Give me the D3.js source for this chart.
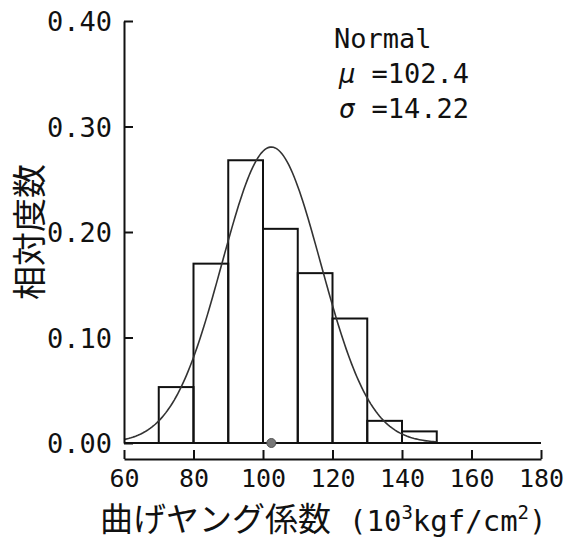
<!DOCTYPE html>
<html>
<head>
<meta charset="utf-8">
<script src="https://cdn.jsdelivr.net/npm/d3@7"></script>
<style>
  html, body { margin: 0; padding: 0; background: #fff; }
  svg { display: block; }
  .mono { font-family: "DejaVu Sans Mono", "Liberation Mono", monospace; }
  .cjk { font-family: "Noto Sans CJK JP", "Noto Sans CJK SC", sans-serif; }
</style>
</head>
<body>
<svg id="chart" width="567" height="541"></svg>
<script>
// Relative frequency histogram of bending Young's modulus, with fitted normal curve
const binStarts = [70, 80, 90, 100, 110, 120, 130, 140];
const binWidth = 10;
const relFreq = [0.053, 0.170, 0.268, 0.203, 0.161, 0.118, 0.021, 0.011];

const mu = 102.4;
const sigma = 14.22;
const curveRange = [60, 150];

const xTicks = [60, 80, 100, 120, 140, 160, 180];
const yTicks = [0.00, 0.10, 0.20, 0.30, 0.40];

const svg = d3.select("#chart");

const x = d3.scaleLinear().domain([60, 180]).range([124, 541]);
const y = d3.scaleLinear().domain([0, 0.40]).range([443, 21]);

const ink = "#111";

// bars
svg.append("g")
  .selectAll("rect")
  .data(binStarts.map((s, i) => ({ s, v: relFreq[i] })))
  .join("rect")
  .attr("x", d => x(d.s))
  .attr("y", d => y(d.v))
  .attr("width", d => x(d.s + binWidth) - x(d.s))
  .attr("height", d => y(0) - y(d.v))
  .attr("fill", "none")
  .attr("stroke", ink)
  .attr("stroke-width", 2);

// fitted normal curve scaled to bin width
const pdf = t => binWidth / (sigma * Math.sqrt(2 * Math.PI)) *
  Math.exp(-0.5 * Math.pow((t - mu) / sigma, 2));
const pts = d3.range(curveRange[0], curveRange[1] + 0.001, 0.5).map(t => [t, pdf(t)]);
svg.append("path")
  .datum(pts)
  .attr("d", d3.line().x(d => x(d[0])).y(d => y(d[1])))
  .attr("fill", "none")
  .attr("stroke", "#333")
  .attr("stroke-width", 1.6);

// baseline
svg.append("line")
  .attr("x1", x(60)).attr("x2", x(180))
  .attr("y1", y(0)).attr("y2", y(0))
  .attr("stroke", ink).attr("stroke-width", 2);

// y axis with inward ticks
const yAxis = svg.append("g")
  .attr("transform", `translate(${x(60)},0)`)
  .call(d3.axisLeft(y).tickValues(yTicks).tickFormat(d3.format(".2f"))
    .tickSize(-9).tickSizeOuter(0).tickPadding(12));
yAxis.attr("font-family", null);
yAxis.select(".domain").attr("stroke", ink).attr("stroke-width", 2);
yAxis.selectAll(".tick line").attr("stroke", ink).attr("stroke-width", 2);
yAxis.selectAll(".tick text")
  .attr("class", "mono")
  .attr("x", -12)
  .attr("dy", "0.36em")
  .attr("font-size", 27)
  .attr("fill", ink);

// separate x axis below the plot, ticks pointing up
const xAxis = svg.append("g")
  .attr("transform", "translate(0,459)")
  .call(d3.axisBottom(x).tickValues(xTicks).tickFormat(d3.format("d"))
    .tickSize(-9).tickSizeOuter(0).tickPadding(14));
xAxis.attr("font-family", null);
xAxis.select(".domain").attr("stroke", ink).attr("stroke-width", 2);
xAxis.selectAll(".tick line").attr("stroke", ink).attr("stroke-width", 2);
xAxis.selectAll(".tick text")
  .attr("class", "mono")
  .attr("y", 28)
  .attr("dy", 0)
  .attr("font-size", 25)
  .attr("fill", ink);

// mean marker
svg.append("circle")
  .attr("cx", x(mu)).attr("cy", y(0)).attr("r", 4.5)
  .attr("fill", "#777").attr("stroke", "#555");

// y axis title
svg.append("text")
  .attr("class", "cjk")
  .attr("transform", "translate(42,232) rotate(-90)")
  .attr("text-anchor", "middle")
  .attr("font-size", 34)
  .attr("fill", ink)
  .text("相対度数");

// x axis title
const xt = svg.append("text")
  .attr("x", 100).attr("y", 531)
  .attr("fill", ink);
xt.append("tspan").attr("class", "cjk").attr("font-size", 33).text("曲げヤング係数");
xt.append("tspan").attr("class", "mono").attr("font-size", 29).attr("dx", 18).text("(10");
xt.append("tspan").attr("class", "mono").attr("font-size", 19).attr("dy", -12).text("3");
xt.append("tspan").attr("class", "mono").attr("font-size", 29).attr("dy", 12).text("kgf/cm");
xt.append("tspan").attr("class", "mono").attr("font-size", 19).attr("dy", -12).text("2");
xt.append("tspan").attr("class", "mono").attr("font-size", 29).attr("dy", 12).text(")");

// fit annotation
const note = svg.append("g").attr("class", "mono").attr("font-size", 27).attr("fill", ink);
note.append("text").attr("x", 334).attr("y", 48).text("Normal");
const m = note.append("text").attr("x", 339).attr("y", 83);
m.append("tspan").attr("font-style", "italic").text("μ");
m.append("tspan").text(" =" + mu.toFixed(1));
const s = note.append("text").attr("x", 339).attr("y", 118);
s.append("tspan").attr("font-style", "italic").text("σ");
s.append("tspan").text(" =" + sigma.toFixed(2));
</script>
</body>
</html>
